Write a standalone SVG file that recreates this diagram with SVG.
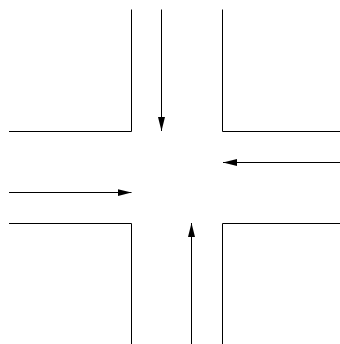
<svg xmlns="http://www.w3.org/2000/svg" width="340" height="344" viewBox="0 0 340 344">
  <style>
    .kerb { fill: none; stroke: #000; stroke-width: 1; }
    .lane { fill: none; stroke: #000; stroke-width: 1; marker-end: url(#head); }
  </style>
  <defs>
    <marker id="head" viewBox="0 0 14 7" refX="14" refY="3.5" markerWidth="14" markerHeight="7" markerUnits="userSpaceOnUse" orient="auto">
      <path d="M0,0 L14,3.5 L0,7 Z" fill="#000"/>
    </marker>
  </defs>
  <rect width="340" height="344" fill="#fff"/>
  <!-- road edges of the four corners -->
  <g id="corner-nw"><path class="kerb" d="M131.5,9.5 V131.5 H9"/></g>
  <g id="corner-ne"><path class="kerb" d="M222.5,9.5 V131.5 H340"/></g>
  <g id="corner-sw"><path class="kerb" d="M9,223.5 H131.5 V344"/></g>
  <g id="corner-se"><path class="kerb" d="M340,223.5 H222.5 V344"/></g>
  <!-- traffic directions -->
  <g id="connectors">
    <path class="lane" d="M161.5,9.5 V131"/>
    <path class="lane" d="M340,162.5 H223"/>
    <path class="lane" d="M9,192.5 H131.5"/>
    <path class="lane" d="M191.5,344 V223"/>
  </g>
</svg>
